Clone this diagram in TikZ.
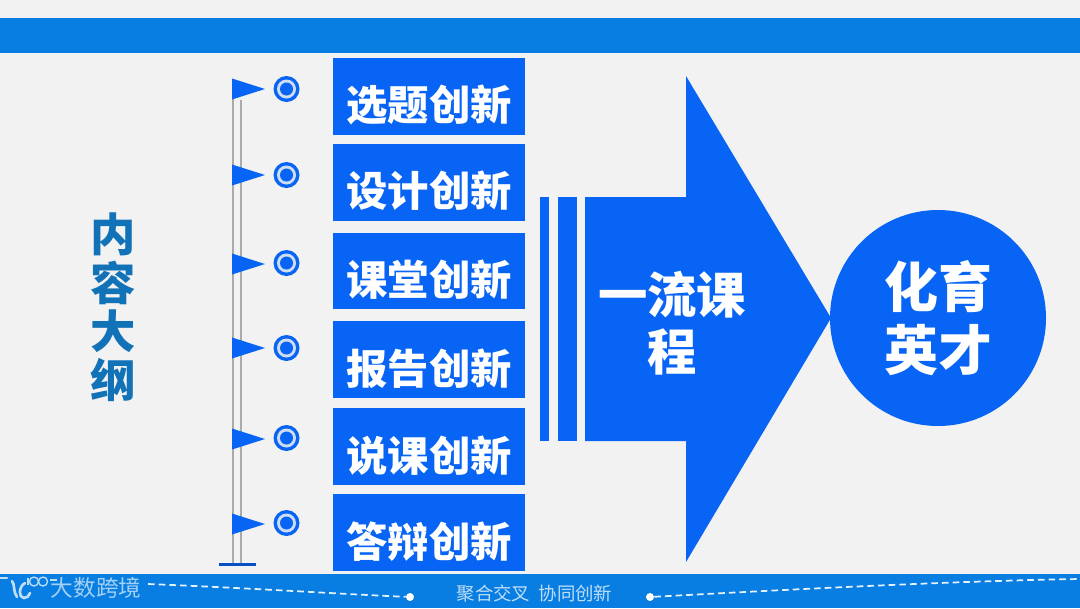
\documentclass[tikz,border=0pt]{standalone}
\usepackage{fontspec}
\usepackage{xcolor}
\usetikzlibrary{positioning}
\setmainfont{Noto Sans CJK SC}
\definecolor{paper}{RGB}{242,242,242}
\definecolor{vivid}{RGB}{8,100,244}
\definecolor{band}{RGB}{8,125,226}
\definecolor{titleblue}{RGB}{18,114,184}
\definecolor{pole}{RGB}{170,170,170}
\definecolor{mist}{RGB}{190,222,248}
\newcommand{\lowtext}[1]{\raisebox{-18.5pt}[0pt][0pt]{#1}}
\tikzset{
  itembox/.style={fill=vivid,text=white,inner sep=0pt,minimum width=144pt,minimum height=57.4pt,font=\fontsize{31}{31}\selectfont\bfseries},
  bigtext/.style={text=white,inner sep=0pt,align=center,font=\fontsize{37}{43}\selectfont\bfseries},
  titlechar/.style={text=titleblue,inner sep=0pt,font=\fontsize{34}{34}\selectfont\bfseries},
  footer/.style={text=mist,inner sep=0pt,font=\fontsize{13.8}{14}\selectfont},
  dashline/.style={white!90!band,line width=1.3pt,dash pattern=on 5pt off 3pt},
  polestick/.style={pole,line width=1.5pt},
  logostroke/.style={mist,line width=2pt,line cap=round},
}
\begin{document}
\begin{tikzpicture}[x=0.75pt,y=-0.75pt]
\useasboundingbox (0,0) rectangle (1080,608);
\fill[paper] (0,0) rectangle (1080,608);
% bands
\fill[band] (0,18) rectangle (1080,53);
\fill[band] (0,574) rectangle (1080,608);
% title
\node[titlechar] (t1) at (113.5,234) {内};
\node[titlechar] (t2) at (113.5,283) {容};
\node[titlechar] (t3) at (113.5,331) {大};
\node[titlechar] (t4) at (113.5,380) {纲};
% flag pole
\draw[polestick] (232.5,80) -- (232.5,564);
\draw[polestick] (240.5,100) -- (240.5,564);
\draw[vivid!80!black,line width=2.4pt] (219,564.5) -- (256,564.5);
\foreach \fy/\cy in {89/89,175/175,264/263,348/348,439/438,524/523}{
  \fill[vivid] (232,\fy-10.5) -- (265,\fy) -- (232,\fy+10.5) -- cycle;
  \fill[vivid] (286.5,\cy) circle (13);
  \fill[paper!85!vivid] (286.5,\cy) circle (9.5);
  \fill[vivid] (286.5,\cy) circle (6.5);
}
% items
\node[itembox] (xt) at (429,96.25) {\lowtext{选题创新}};
\node[itembox, below=6.75pt of xt] (sj) {\lowtext{设计创新}};
\node[itembox, below=8.6pt of sj] (kt) {\lowtext{课堂创新}};
\node[itembox, below=8.8pt of kt] (bg) {\lowtext{报告创新}};
\node[itembox, below=7.3pt of bg] (sk) {\lowtext{说课创新}};
\node[itembox, below=6.7pt of sk] (db) {\lowtext{答辩创新}};
% arrow
\fill[vivid] (540,197) rectangle (549,441);
\fill[vivid] (558,197) rectangle (577,441);
\fill[vivid] (585,197) -- (686,197) -- (686,76) -- (831,318) -- (686,562) -- (686,441) -- (585,441) -- cycle;
\node[bigtext] (yl) at (672,323) {一流课\\程};
% circle
\node[circle,fill=vivid,minimum size=162pt,inner sep=0pt] (yc) at (938,318) {};
\node[bigtext, font=\fontsize{40.5}{47}\selectfont\bfseries] (hy) at (yc) {化育\\英才};
% footer
\node[footer] (slogan) at (534.5,594) {聚合交叉\ \ 协同创新};
\node[circle,fill=white,minimum size=6pt,inner sep=0pt] (dl) at (410,597) {};
\node[circle,fill=white,minimum size=6pt,inner sep=0pt] (dr) at (650,597) {};
\coordinate (ls) at (148,584);
\coordinate (re) at (1080,579);
\draw[dashline] (ls) .. controls (250,588) and (340,594) .. (dl);
\draw[dashline] (dr) .. controls (780,590) and (950,581) .. (re);
% logo
\node[footer, font=\fontsize{17}{17}\selectfont, text=mist!85!band] (wm) at (96,588) {大数跨境};
\draw[logostroke] (0,578) -- (7,578);
\draw[logostroke] (12,581) .. controls (15,584) and (13,592) .. (17,597);
\draw[logostroke] (25,583) .. controls (18,587) and (19,598) .. (24,598) .. controls (27,598) and (29,596) .. (30,593);
\draw[mist,line width=1pt] (28,578) -- (28,585);
\draw[mist,line width=1pt] (34,581.5) circle (4.5);
\draw[mist,line width=1pt] (43,581.5) circle (4.5);
\draw[mist,line width=1.4pt] (50,580) -- (57,580);
\end{tikzpicture}
\end{document}
